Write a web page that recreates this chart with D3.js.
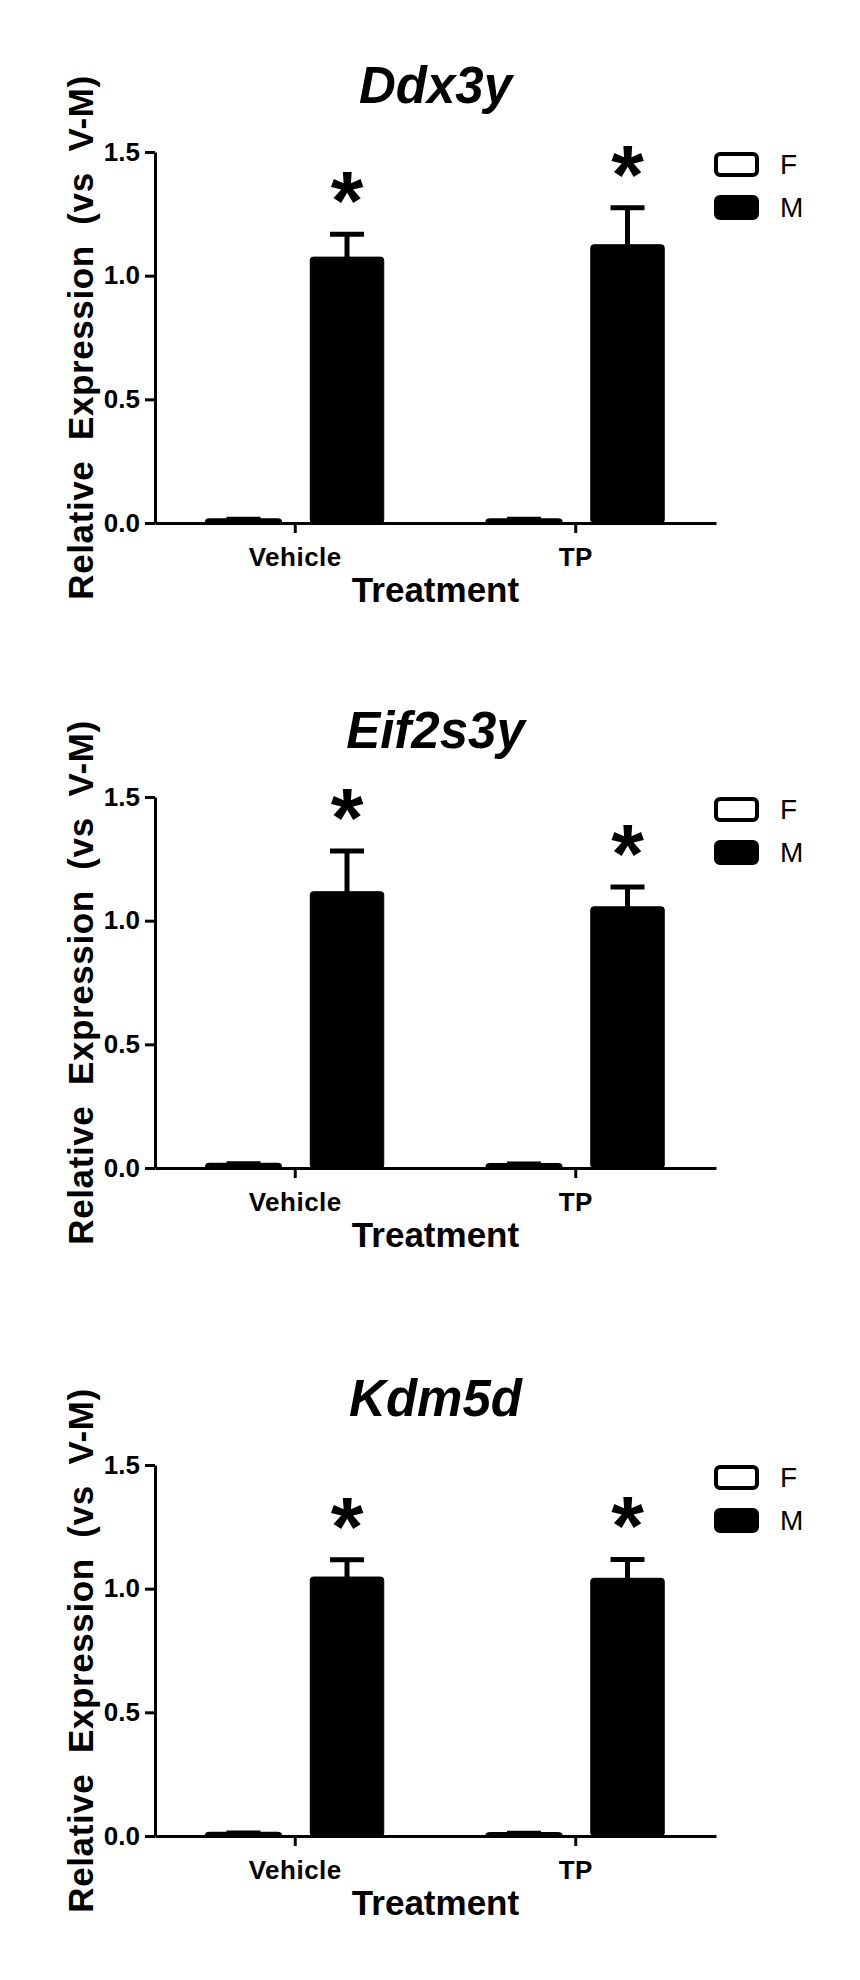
<!DOCTYPE html>
<html>
<head>
<meta charset="utf-8">
<script src="https://cdn.jsdelivr.net/npm/d3@7"></script>
<style>
  body { margin: 0; background: #fff; }
  svg text { font-family: "Liberation Sans", Arial, sans-serif; fill: #000; }
</style>
</head>
<body>
<div id="chart"></div>
<script>
/*********************************************************/
// Data
const genes = ["Ddx3y", "Eif2s3y", "Kdm5d"];
const treatments = ["Vehicle", "TP"];
const sexes = ["F", "M"];

const femaleMean = [[0.012, 0.012], [0.014, 0.013], [0.010, 0.009]];
const femaleSem  = [[0.003, 0.003], [0.003, 0.003], [0.002, 0.002]];
const maleMean   = [[1.075, 1.125], [1.117, 1.056], [1.047, 1.042]];
const maleSem    = [[0.092, 0.150], [0.165, 0.080], [0.070, 0.076]];
const maleStars  = [["*", "*"], ["*", "*"], ["*", "*"]];

const yTicks = [0, 0.5, 1.0, 1.5];
const yLabel = "Relative  Expression  (vs  V-M)";
const xLabel = "Treatment";

/*********************************************************/
// Layout
const svgWidth = 860;
const svgHeight = 1980;
const panelTops = [152, 797, 1465];
const plotHeight = 371;
const plotLeft = 155;
const plotRight = 716;

const svg = d3.select("#chart")
  .append("svg")
  .attr("width", svgWidth)
  .attr("height", svgHeight);

const x0 = d3.scaleBand()
  .domain(treatments)
  .range([plotLeft, plotRight])
  .paddingInner(0)
  .paddingOuter(0);

const x1 = d3.scaleBand()
  .domain(sexes)
  .range([0, x0.bandwidth()])
  .paddingInner(0.29)
  .paddingOuter(0.5);

genes.forEach((gene, gi) => {
  const top = panelTops[gi];
  const y = d3.scaleLinear().domain([0, 1.5]).range([top + plotHeight, top]);

  const rows = treatments.map((t, ti) => [
    { t, sex: "F", mean: femaleMean[gi][ti], sem: femaleSem[gi][ti], star: "" },
    { t, sex: "M", mean: maleMean[gi][ti], sem: maleSem[gi][ti], star: maleStars[gi][ti] }
  ]).flat();

  const g = svg.append("g");

  // Title
  g.append("text")
    .text(gene)
    .attr("x", (plotLeft + plotRight) / 2)
    .attr("y", top - 49)
    .attr("text-anchor", "middle")
    .attr("font-size", "51px")
    .attr("font-weight", "bold")
    .attr("font-style", "italic");

  // Bars
  g.selectAll(".bar")
    .data(rows)
    .enter()
    .append("rect")
    .attr("class", "bar")
    .attr("x", d => x0(d.t) + x1(d.sex))
    .attr("width", x1.bandwidth())
    .attr("y", d => y(d.mean))
    .attr("height", d => y(0) - y(d.mean))
    .attr("rx", 3)
    .attr("fill", d => d.sex === "M" ? "#000" : "#fff")
    .attr("stroke", "#000")
    .attr("stroke-width", d => d.sex === "M" ? 1 : 3.5);

  // Error bars (upper only)
  const cx = d => x0(d.t) + x1(d.sex) + x1.bandwidth() / 2;
  g.selectAll(".err")
    .data(rows)
    .enter()
    .append("line")
    .attr("x1", cx).attr("x2", cx)
    .attr("y1", d => y(d.mean))
    .attr("y2", d => y(d.mean + d.sem))
    .attr("stroke", "#000")
    .attr("stroke-width", 5);

  g.selectAll(".cap")
    .data(rows)
    .enter()
    .append("line")
    .attr("x1", d => cx(d) - 17).attr("x2", d => cx(d) + 17)
    .attr("y1", d => y(d.mean + d.sem))
    .attr("y2", d => y(d.mean + d.sem))
    .attr("stroke", "#000")
    .attr("stroke-width", 5);

  // Significance stars
  g.selectAll(".star")
    .data(rows.filter(d => d.star))
    .enter()
    .append("text")
    .text(d => d.star)
    .attr("x", cx)
    .attr("y", d => y(d.mean + d.sem) - 27 + 23)
    .attr("text-anchor", "middle")
    .attr("font-size", "84px")
    .attr("font-weight", "bold");

  // Axes
  const leftAxis = d3.axisLeft(y)
    .tickValues(yTicks)
    .tickFormat(d3.format(".1f"))
    .tickSizeInner(10)
    .tickSizeOuter(0)
    .tickPadding(5);

  const bottomAxis = d3.axisBottom(x0)
    .tickSizeInner(10)
    .tickSizeOuter(0)
    .tickPadding(8);

  const ya = g.append("g")
    .attr("transform", `translate(${plotLeft},0)`)
    .call(leftAxis);
  ya.selectAll("text")
    .attr("font-size", "26px")
    .attr("font-weight", "bold")
    .attr("font-family", null);

  const xa = g.append("g")
    .attr("transform", `translate(0,${y(0)})`)
    .call(bottomAxis);
  xa.selectAll("text")
    .attr("font-size", "26px")
    .attr("font-weight", "bold")
    .attr("font-family", null)
    .attr("letter-spacing", "0.5px")
    .attr("dy", "0.95em");

  [ya, xa].forEach(a => {
    a.selectAll("path, line").attr("stroke", "#000").attr("stroke-width", 3);
  });

  // Axis titles
  g.append("text")
    .text(xLabel)
    .attr("x", (plotLeft + plotRight) / 2)
    .attr("y", y(0) + 79)
    .attr("text-anchor", "middle")
    .attr("font-size", "35px")
    .attr("font-weight", "bold");

  g.append("text")
    .text(yLabel)
    .attr("transform", `translate(93,${top + plotHeight / 2}) rotate(-90)`)
    .attr("text-anchor", "middle")
    .attr("font-size", "35px")
    .attr("font-weight", "bold")
    .attr("letter-spacing", "0.6px")
    .style("white-space", "pre");

  // Legend
  const legend = g.append("g")
    .attr("transform", `translate(716,${top + 2})`);

  legend.selectAll("rect")
    .data(sexes)
    .enter()
    .append("rect")
    .attr("x", 0)
    .attr("y", (d, i) => i * 43)
    .attr("width", 41)
    .attr("height", 21)
    .attr("rx", 4)
    .attr("fill", d => d === "M" ? "#000" : "#fff")
    .attr("stroke", "#000")
    .attr("stroke-width", 4);

  legend.selectAll("text")
    .data(sexes)
    .enter()
    .append("text")
    .text(d => d)
    .attr("x", 64)
    .attr("y", (d, i) => i * 43 + 20)
    .attr("font-size", "28px");
});
</script>
</body>
</html>
